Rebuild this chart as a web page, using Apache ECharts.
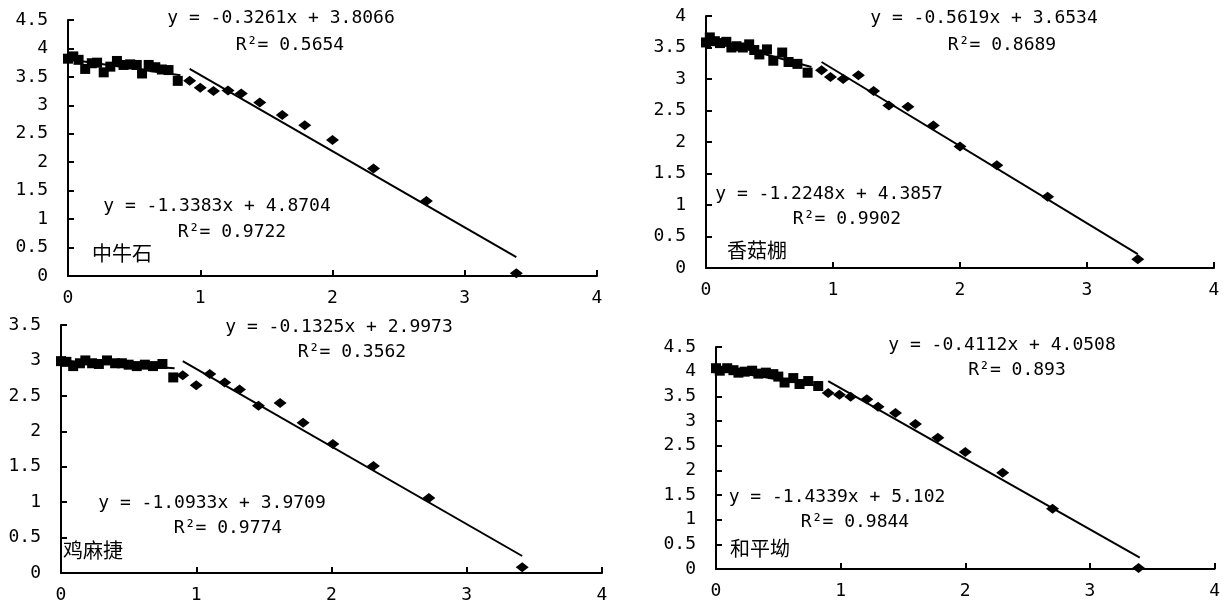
<!DOCTYPE html>
<html>
<head>
<meta charset="utf-8">
<script src="https://cdn.jsdelivr.net/npm/echarts@6/dist/echarts.min.js"></script>
<style>
html,body{margin:0;padding:0;background:#fff;}
#main{width:1223px;height:605px;}
</style>
</head>
<body>
<div id="main"></div>
<script>
// ---- data ----
const siteNames = ['中牛石', '香菇棚', '鸡麻捷', '和平坳'];
const yMax = [4.5, 4, 3.5, 4.5];

const sq1 = [[0,3.82],[0.04,3.86],[0.08,3.80],[0.13,3.64],[0.18,3.74],[0.22,3.75],[0.27,3.58],[0.32,3.68],[0.37,3.78],[0.42,3.71],[0.47,3.72],[0.52,3.71],[0.56,3.56],[0.61,3.71],[0.66,3.67],[0.71,3.63],[0.76,3.62],[0.83,3.43]];
const di1 = [[0.92,3.43],[1.0,3.31],[1.1,3.25],[1.21,3.26],[1.31,3.21],[1.45,3.05],[1.62,2.83],[1.79,2.65],[2.0,2.39],[2.31,1.89],[2.71,1.32],[3.39,0.05]];
const sq2 = [[0,3.58],[0.03,3.66],[0.07,3.60],[0.11,3.57],[0.16,3.59],[0.2,3.50],[0.24,3.52],[0.29,3.50],[0.34,3.55],[0.38,3.46],[0.42,3.39],[0.48,3.47],[0.53,3.29],[0.6,3.42],[0.65,3.27],[0.72,3.24],[0.8,3.1]];
const di2 = [[0.91,3.14],[0.98,3.03],[1.08,3.0],[1.2,3.06],[1.32,2.81],[1.44,2.58],[1.59,2.56],[1.79,2.26],[2.0,1.93],[2.29,1.63],[2.69,1.13],[3.4,0.14]];
const sq3 = [[0,2.99],[0.04,2.98],[0.09,2.92],[0.14,2.96],[0.18,3.0],[0.23,2.96],[0.28,2.95],[0.34,3.0],[0.4,2.96],[0.45,2.96],[0.5,2.94],[0.56,2.92],[0.62,2.94],[0.68,2.92],[0.75,2.95],[0.83,2.76]];
const di3 = [[0.9,2.79],[1.0,2.65],[1.1,2.81],[1.21,2.69],[1.32,2.59],[1.46,2.36],[1.62,2.40],[1.79,2.12],[2.01,1.82],[2.31,1.51],[2.72,1.06],[3.41,0.08]];
const sq4 = [[0,4.07],[0.03,4.02],[0.09,4.07],[0.14,4.03],[0.18,3.98],[0.23,4.0],[0.29,4.02],[0.34,3.96],[0.4,3.98],[0.46,3.95],[0.5,3.9],[0.55,3.78],[0.62,3.87],[0.67,3.75],[0.74,3.81],[0.82,3.71]];
const di4 = [[0.9,3.57],[0.99,3.53],[1.08,3.49],[1.21,3.44],[1.3,3.29],[1.44,3.16],[1.6,2.94],[1.78,2.66],[2.0,2.37],[2.3,1.95],[2.7,1.22],[3.39,0.02]];

// trend line endpoints
const tShort1 = [[0,3.81],[0.85,3.53]];
const tLong1  = [[0.92,3.64],[3.39,0.33]];
const tShort2 = [[0,3.65],[0.83,3.19]];
const tLong2  = [[0.91,3.27],[3.4,0.22]];
const tShort3 = [[0,3.0],[0.84,2.89]];
const tLong3  = [[0.9,2.99],[3.41,0.24]];
const tShort4 = [[0,4.05],[0.85,3.70]];
const tLong4  = [[0.9,3.81],[3.4,0.23]];

const eqUpper = ['y = -0.3261x + 3.8066', 'y = -0.5619x + 3.6534', 'y = -0.1325x + 2.9973', 'y = -0.4112x + 4.0508'];
const r2Upper = ['R²= 0.5654', 'R²= 0.8689', 'R²= 0.3562', 'R²= 0.893'];
const eqLower = ['y = -1.3383x + 4.8704', 'y = -1.2248x + 4.3857', 'y = -1.0933x + 3.9709', 'y = -1.4339x + 5.102'];
const r2Lower = ['R²= 0.9722', 'R²= 0.9902', 'R²= 0.9774', 'R²= 0.9844'];

// ---- layout ----
const grids = [
  {left: 68, top: 20, width: 529, height: 256},
  {left: 706, top: 16, width: 508, height: 252},
  {left: 61, top: 325, width: 541, height: 248},
  {left: 716, top: 347, width: 499, height: 222}
];
const textPos = [
  {eu:[281,18], ru:[290,45], el:[217,206], rl:[232,232], name:[92,253]},
  {eu:[984,18], ru:[1002,45], el:[829,194], rl:[847,219], name:[727,250]},
  {eu:[339,327], ru:[352,352], el:[212,503], rl:[228,528], name:[63,550]},
  {eu:[1002,345], ru:[1017,370], el:[837,497], rl:[855,522], name:[730,548]}
];

const squares = [sq1, sq2, sq3, sq4];
const diamonds = [di1, di2, di3, di4];
const shorts = [tShort1, tShort2, tShort3, tShort4];
const longs = [tLong1, tLong2, tLong3, tLong4];

const monoFont = '"DejaVu Sans Mono", "Liberation Mono", monospace';
const cjkFont = '"Noto Sans CJK SC", sans-serif';

const xAxes = [], yAxes = [], series = [], graphics = [];
for (let i = 0; i < 4; i++) {
  xAxes.push({
    type: 'value', gridIndex: i, min: 0, max: 4, interval: 1,
    axisLine: {show: true, onZero: false, lineStyle: {color: '#000', width: 2}},
    axisTick: {show: true, inside: true, length: 6, lineStyle: {color: '#000', width: 2}},
    axisLabel: {margin: 13, color: '#000', fontSize: 18, fontFamily: monoFont},
    splitLine: {show: false}
  });
  yAxes.push({
    type: 'value', gridIndex: i, min: 0, max: yMax[i], interval: 0.5,
    axisLine: {show: true, onZero: false, lineStyle: {color: '#000', width: 2}},
    axisTick: {show: true, inside: true, length: 6, lineStyle: {color: '#000', width: 2}},
    axisLabel: {margin: 20, color: '#000', fontSize: 18, fontFamily: monoFont},
    splitLine: {show: false}
  });
  series.push({
    type: 'line', xAxisIndex: i, yAxisIndex: i, data: shorts[i], symbol: 'none',
    lineStyle: {color: '#000', width: 2}, silent: true, z: 2
  });
  series.push({
    type: 'line', xAxisIndex: i, yAxisIndex: i, data: longs[i], symbol: 'none',
    lineStyle: {color: '#000', width: 2}, silent: true, z: 2
  });
  series.push({
    type: 'scatter', xAxisIndex: i, yAxisIndex: i, data: squares[i], symbol: 'rect',
    symbolSize: 10, itemStyle: {color: '#000', opacity: 1}, z: 3
  });
  series.push({
    type: 'scatter', xAxisIndex: i, yAxisIndex: i, data: diamonds[i], symbol: 'diamond',
    symbolSize: [13, 10], itemStyle: {color: '#000', opacity: 1}, z: 3
  });
  const p = textPos[i];
  const txt = (t, pos, align, font, size, weight) => ({
    type: 'text', x: pos[0], y: pos[1],
    style: {text: t, fill: '#000', font: weight + ' ' + size + 'px ' + font, textAlign: align, textVerticalAlign: 'middle'},
    z: 10
  });
  graphics.push(txt(eqUpper[i], p.eu, 'center', monoFont, 18, 'normal'));
  graphics.push(txt(r2Upper[i], p.ru, 'center', monoFont, 18, 'normal'));
  graphics.push(txt(eqLower[i], p.el, 'center', monoFont, 18, 'normal'));
  graphics.push(txt(r2Lower[i], p.rl, 'center', monoFont, 18, 'normal'));
  graphics.push(txt(siteNames[i], p.name, 'left', cjkFont, 20, 'normal'));
}

const chart = echarts.init(document.getElementById('main'), null, {renderer: 'canvas'});
chart.setOption({
  backgroundColor: '#fff',
  animation: false,
  grid: grids,
  xAxis: xAxes,
  yAxis: yAxes,
  series: series,
  graphic: graphics
});
</script>
</body>
</html>
